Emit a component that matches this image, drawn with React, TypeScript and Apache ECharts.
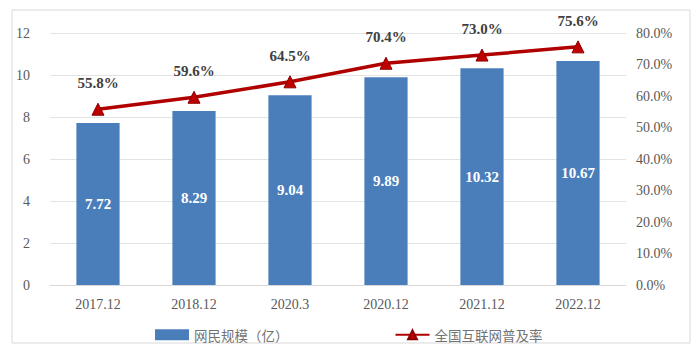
import React, { useEffect, useRef } from "react";
import * as echarts from "echarts";

const categories = ["2017.12", "2018.12", "2020.3", "2020.12", "2021.12", "2022.12"];
const netizens = [7.72, 8.29, 9.04, 9.89, 10.32, 10.67];
const penetration = [55.8, 59.6, 64.5, 70.4, 73.0, 75.6];

export default function App() {
  const ref = useRef<HTMLDivElement>(null);
  useEffect(() => {
    const chart = echarts.init(ref.current!, null, { renderer: "svg" });
    const serif = "Liberation Serif";
    chart.setOption({
      animation: false,
      backgroundColor: "#ffffff",
      graphic: [
        {
          type: "rect",
          shape: { x: 12, y: 10, width: 678, height: 333 },
          style: { fill: "none", stroke: "#d9d9d9", lineWidth: 1 },
        },
      ],
      grid: { left: 50, right: 74, top: 33, bottom: 69 },
      legend: {
        top: 323,
        left: 150,
        itemGap: 106,
        itemWidth: 34,
        itemHeight: 11,
        textStyle: { fontFamily: "Noto Sans CJK SC", fontSize: 13.5, color: "#737373" },
        data: [
          { name: "网民规模（亿）", icon: "rect" },
          { name: "全国互联网普及率" },
        ],
      },
      xAxis: {
        type: "category",
        data: categories,
        axisLine: { lineStyle: { color: "#d9d9d9" } },
        axisTick: { show: false },
        axisLabel: { fontFamily: serif, fontSize: 14, color: "#595959", margin: 12 },
      },
      yAxis: [
        {
          type: "value",
          min: 0,
          max: 12,
          interval: 2,
          axisLine: { show: false },
          axisTick: { show: false },
          axisLabel: { fontFamily: serif, fontSize: 14, color: "#595959", margin: 20 },
          splitLine: { lineStyle: { color: "#e3e3e3" } },
        },
        {
          type: "value",
          min: 0,
          max: 80,
          interval: 10,
          axisLine: { show: false },
          axisTick: { show: false },
          axisLabel: {
            fontFamily: serif,
            fontSize: 14,
            color: "#595959",
            margin: 10,
            formatter: (v: number) => v.toFixed(1) + "%",
          },
          splitLine: { show: false },
        },
      ],
      series: [
        {
          name: "网民规模（亿）",
          type: "bar",
          data: netizens,
          barWidth: "45%",
          itemStyle: { color: "#4a7ebb" },
          label: {
            show: true,
            position: "inside",
            color: "#ffffff",
            fontFamily: serif,
            fontWeight: "bold",
            fontSize: 15,
            formatter: (p: any) => p.value.toFixed(2),
          },
        },
        {
          name: "全国互联网普及率",
          type: "line",
          yAxisIndex: 1,
          data: penetration,
          symbol: "triangle",
          symbolSize: 12,
          lineStyle: { color: "#b00000", width: 3.5 },
          itemStyle: { color: "#c00000", borderColor: "#8b0000", borderWidth: 1 },
          label: {
            show: true,
            position: "top",
            distance: 12,
            color: "#404040",
            fontFamily: serif,
            fontWeight: "bold",
            fontSize: 15,
            formatter: (p: any) => p.value.toFixed(1) + "%",
          },
        },
      ],
    });
    return () => chart.dispose();
  }, []);
  return (
    <div
      ref={ref}
      style={{ position: "absolute", left: 0, top: 0, width: 700, height: 354 }}
    />
  );
}
